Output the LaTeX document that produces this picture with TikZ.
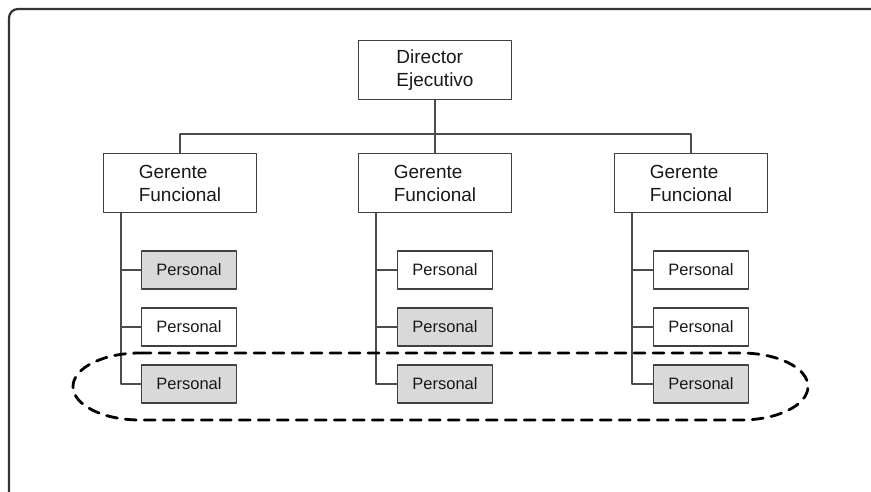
\documentclass[tikz,border=0pt]{standalone}
\usepackage{fontspec}
\setmainfont{Liberation Sans}
\usetikzlibrary{positioning}
\begin{document}
\begin{tikzpicture}[x=1pt, y=1pt, line join=round, line cap=round]
	\tikzset{box/.style={draw=black!75, line width=1.1pt, fill=white, inner sep=0pt},
		jefe/.style={box, minimum width=153pt, minimum height=59pt, align=left, font=\fontsize{19}{23}\selectfont, text=black!90},
		pers/.style={box, minimum width=95pt, minimum height=38pt, font=\fontsize{16.5}{18}\selectfont, text=black!90},
		gris/.style={fill=black!15},
		linea/.style={draw=black!70, line width=1.1pt}}
	\useasboundingbox (0,0) rectangle (871,-492);
	% marco
	\draw[black!80, line width=2.2pt, rounded corners=9pt] (9,-495)--(9,-9)--(875,-9);
	% nodos
	\node[jefe] (director) at (435,-70) {Director\\Ejecutivo};
	\node[jefe] (gerA) at (180,-183) {Gerente\\Funcional};
	\node[jefe] (gerB) at (435,-183) {Gerente\\Funcional};
	\node[jefe] (gerC) at (691,-183) {Gerente\\Funcional};
	\node[pers, gris] (pA1) at (189,-270) {Personal};
	\node[pers] (pA2) at (189,-327) {Personal};
	\node[pers, gris] (pA3) at (189,-384) {Personal};
	\node[pers] (pB1) at (445,-270) {Personal};
	\node[pers, gris] (pB2) at (445,-327) {Personal};
	\node[pers, gris] (pB3) at (445,-384) {Personal};
	\node[pers] (pC1) at (701,-270) {Personal};
	\node[pers] (pC2) at (701,-327) {Personal};
	\node[pers, gris] (pC3) at (701,-384) {Personal};
	% conectores
	\coordinate (bus) at (435,-134);
	\draw[linea] (director.south) -- (bus) -- (gerB.north);
	\draw[linea] (gerA.north) |- (bus) -| (gerC.north);
	\foreach \g in {A,B,C}{
		\coordinate (esp\g) at ([xshift=18pt]ger\g.south west);
		\draw[linea] (esp\g) |- (p\g3.west);
		\draw[linea] (esp\g |- p\g1) -- (p\g1.west);
		\draw[linea] (esp\g |- p\g2) -- (p\g2.west);
	}
	% grupo
	\draw[black, line width=2.8pt, dash pattern=on 11pt off 8pt]
		(140,-353) -- (741,-353) arc[start angle=90, end angle=-90, x radius=67, y radius=33.5]
		-- (140,-420) arc[start angle=270, end angle=90, x radius=67, y radius=33.5] -- cycle;
\end{tikzpicture}
\end{document}
